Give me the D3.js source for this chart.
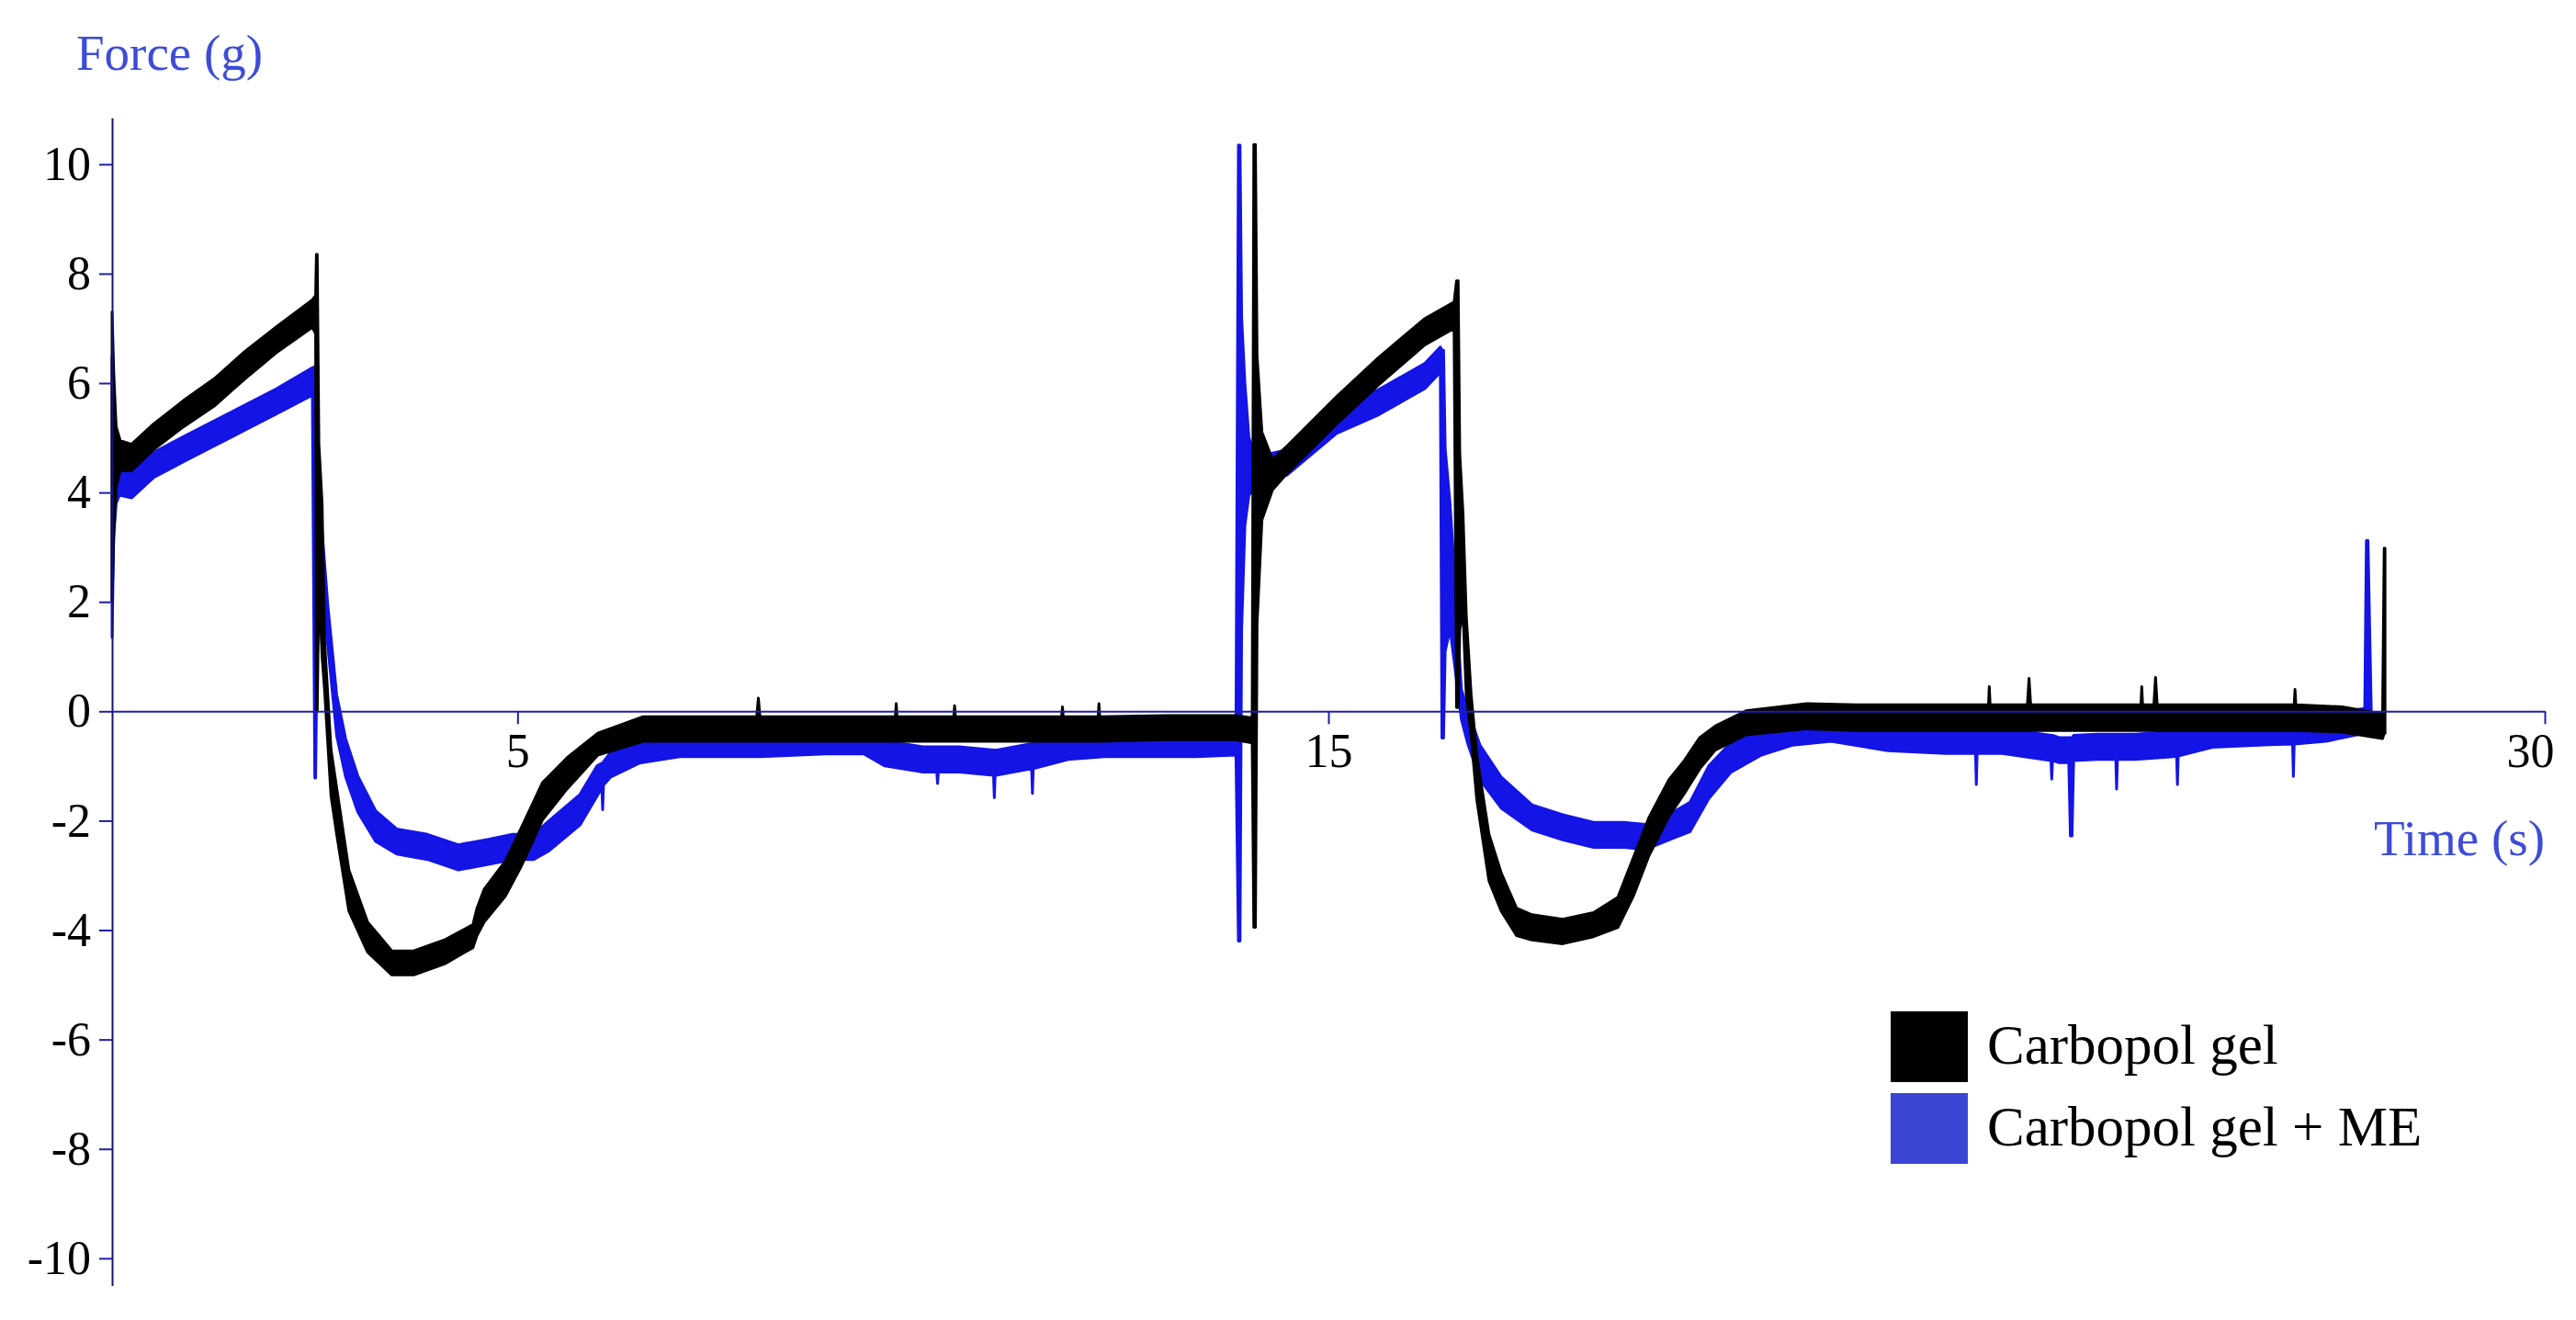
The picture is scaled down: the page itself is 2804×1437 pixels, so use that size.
<!DOCTYPE html>
<html>
<head>
<meta charset="utf-8">
<script src="https://cdn.jsdelivr.net/npm/d3@7"></script>
<style>
  body { margin: 0; background: #fff; }
</style>
</head>
<body>
<div id="chart"></div>
<script>
// Carbopol gel (black): [time (s), lower edge, upper edge] of the noisy trace (g)
const gelTrace = [
  [0.00, 2.00, 7.30], [0.02, 3.20, 6.20], [0.05, 4.10, 5.20], [0.10, 4.40, 4.95], [0.24, 4.40, 4.88],
  [0.51, 4.78, 5.25], [0.88, 5.20, 5.68], [1.26, 5.58, 6.08], [1.64, 6.08, 6.58], [2.02, 6.55, 7.02],
  [2.47, 7.02, 7.52], [2.51, 6.90, 7.60], [2.52, 0.00, 8.35], [2.53, 0.00, 8.35], [2.55, 2.30, 4.90],
  [2.59, 1.00, 3.80], [2.62, 0.40, 1.30], [2.70, -1.55, -0.70], [2.77, -2.25, -1.40], [2.92, -3.65, -2.90],
  [3.15, -4.40, -3.85], [3.45, -4.82, -4.38], [3.72, -4.82, -4.38], [4.10, -4.62, -4.18], [4.45, -4.32, -3.90],
  [4.50, -4.10, -3.60], [4.59, -3.85, -3.25], [4.85, -3.38, -2.74], [5.04, -2.85, -2.15], [5.31, -1.98, -1.30],
  [5.61, -1.42, -0.85], [5.99, -0.80, -0.40], [6.55, -0.55, -0.10], [7.00, -0.55, -0.10], [7.95, -0.55, -0.10],
  [7.97, -0.55, 0.24], [7.99, -0.55, -0.10], [9.00, -0.55, -0.10], [9.66, -0.55, -0.10], [9.67, -0.55, 0.14],
  [9.68, -0.55, -0.10], [10.38, -0.55, -0.10], [10.39, -0.55, 0.10], [10.40, -0.55, -0.10], [11.71, -0.55, -0.10],
  [11.72, -0.55, 0.08], [11.73, -0.55, -0.10], [12.16, -0.55, -0.10], [12.17, -0.55, 0.14], [12.18, -0.55, -0.10],
  [13.00, -0.52, -0.08], [13.85, -0.52, -0.08], [14.06, -0.58, -0.12], [14.08, -3.95, 10.36], [14.10, -3.95, 10.36],
  [14.12, 1.60, 6.50], [14.18, 3.50, 5.10], [14.31, 4.05, 4.60], [14.49, 4.35, 4.85], [15.10, 5.25, 5.75],
  [15.62, 5.97, 6.47], [16.19, 6.70, 7.18], [16.55, 7.00, 7.48], [16.58, 0.07, 7.87], [16.60, 0.07, 7.87],
  [16.62, 1.50, 4.70], [16.66, 1.80, 3.60], [16.70, 0.30, 1.75], [16.76, -0.45, 0.30], [16.83, -1.62, -0.80],
  [16.98, -3.10, -2.25], [17.13, -3.65, -2.95], [17.32, -4.10, -3.60], [17.51, -4.18, -3.72], [17.89, -4.25, -3.80],
  [18.27, -4.12, -3.68], [18.57, -3.95, -3.40], [18.76, -3.38, -2.68], [18.95, -2.65, -1.95], [19.20, -1.92, -1.25],
  [19.39, -1.50, -0.90], [19.58, -1.05, -0.48], [19.77, -0.71, -0.27], [20.15, -0.43, 0.01], [20.90, -0.32, 0.14],
  [21.50, -0.35, 0.12], [22.50, -0.35, 0.12], [23.14, -0.35, 0.12], [23.15, -0.35, 0.45], [23.16, -0.35, 0.12],
  [23.62, -0.35, 0.12], [23.64, -0.35, 0.60], [23.66, -0.35, 0.12], [25.02, -0.35, 0.12], [25.03, -0.35, 0.45],
  [25.04, -0.35, 0.12], [25.18, -0.35, 0.12], [25.20, -0.35, 0.62], [25.22, -0.35, 0.12], [26.50, -0.35, 0.12],
  [26.91, -0.35, 0.12], [26.92, -0.35, 0.40], [26.93, -0.35, 0.12], [27.50, -0.38, 0.08], [28.00, -0.50, -0.05],
  [28.02, -0.40, 2.98], [28.03, -0.40, 2.98]
];

// Carbopol gel + ME (blue)
const meTrace = [
  [0.00, 1.35, 6.49], [0.02, 3.20, 5.40], [0.05, 3.80, 4.60], [0.09, 3.95, 4.42], [0.24, 3.90, 4.38],
  [0.51, 4.27, 4.73], [0.88, 4.56, 5.02], [1.26, 4.85, 5.31], [1.64, 5.14, 5.60], [2.02, 5.43, 5.89],
  [2.47, 5.78, 6.28], [2.50, -1.22, 6.30], [2.51, -1.22, 6.30], [2.54, 2.60, 4.60], [2.58, 2.30, 3.50],
  [2.66, 1.20, 1.95], [2.77, -0.45, 0.30], [2.88, -1.20, -0.50], [3.03, -1.84, -1.18], [3.25, -2.38, -1.82],
  [3.51, -2.61, -2.15], [3.89, -2.71, -2.25], [4.27, -2.90, -2.44], [4.64, -2.80, -2.34], [4.94, -2.71, -2.25],
  [5.20, -2.71, -2.25], [5.39, -2.55, -2.00], [5.77, -2.08, -1.52], [5.98, -1.55, -1.00], [6.04, -1.40, -0.95],
  [6.05, -1.80, -0.95], [6.06, -1.35, -0.92], [6.15, -1.20, -0.75], [6.50, -0.95, -0.50], [7.00, -0.83, -0.37],
  [8.00, -0.83, -0.37], [8.80, -0.78, -0.32], [9.27, -0.78, -0.32], [9.53, -1.00, -0.54], [10.00, -1.11, -0.65],
  [10.17, -1.11, -0.65], [10.18, -1.32, -0.65], [10.19, -1.11, -0.65], [10.45, -1.11, -0.65], [10.87, -1.17, -0.71],
  [10.88, -1.58, -0.71], [10.89, -1.17, -0.71], [10.90, -1.17, -0.71], [11.34, -1.05, -0.59], [11.35, -1.50, -0.59],
  [11.36, -1.05, -0.59], [11.79, -0.88, -0.42], [12.24, -0.83, -0.37], [13.37, -0.83, -0.37], [13.86, -0.80, -0.32],
  [13.89, -4.20, 10.35], [13.91, -4.20, 10.35], [13.93, 1.50, 7.20], [13.97, 3.40, 6.00], [14.02, 3.95, 5.00],
  [14.10, 4.10, 4.65], [14.49, 4.32, 4.78], [15.10, 5.08, 5.54], [15.62, 5.42, 5.88], [16.19, 5.90, 6.36],
  [16.38, 6.20, 6.66], [16.40, -0.49, 6.60], [16.42, -0.49, 6.60], [16.44, 1.10, 4.80], [16.50, 1.50, 3.80],
  [16.56, 0.80, 2.40], [16.64, -0.15, 0.40], [16.72, -0.60, 0.00], [16.87, -1.25, -0.62], [17.13, -1.77, -1.20],
  [17.51, -2.17, -1.71], [17.89, -2.35, -1.89], [18.27, -2.49, -2.03], [18.65, -2.49, -2.03], [18.91, -2.53, -2.07],
  [19.20, -2.35, -1.89], [19.46, -2.20, -1.66], [19.69, -1.60, -1.00], [19.96, -1.12, -0.58], [20.34, -0.80, -0.34],
  [20.72, -0.62, -0.16], [21.20, -0.55, -0.09], [21.90, -0.72, -0.26], [22.61, -0.77, -0.31], [22.98, -0.77, -0.31],
  [22.99, -1.34, -0.31], [23.00, -0.77, -0.31], [23.31, -0.77, -0.31], [23.91, -0.90, -0.44], [23.92, -1.24, -0.44],
  [23.93, -0.90, -0.44], [24.01, -0.94, -0.48], [24.13, -0.94, -0.48], [24.15, -2.28, -0.48], [24.17, -2.28, -0.48],
  [24.19, -0.90, -0.44], [24.48, -0.88, -0.42], [24.71, -0.88, -0.42], [24.72, -1.42, -0.42], [24.73, -0.88, -0.42],
  [24.95, -0.88, -0.42], [25.42, -0.83, -0.37], [25.46, -0.82, -0.36], [25.47, -1.34, -0.36], [25.48, -0.82, -0.36],
  [25.90, -0.66, -0.20], [26.60, -0.61, -0.15], [26.89, -0.60, -0.14], [26.90, -1.19, -0.14], [26.91, -0.60, -0.14],
  [27.30, -0.55, -0.09], [27.68, -0.43, 0.03], [27.78, -0.40, 0.05], [27.80, -0.30, 3.12], [27.82, -0.30, 3.12],
  [27.86, -0.30, 0.05]
];

const xTicks = [5, 15, 30];
const yTicks = [-10, -8, -6, -4, -2, 0, 2, 4, 6, 8, 10];
const legendNames = ["Carbopol gel", "Carbopol gel + ME"];

const width = 2804;
const height = 1437;
const font = "'Liberation Serif', 'Times New Roman', serif";

const traceBlue = "#1414e6";
const legendBlue = "#3a46d3";
const titleBlue = "#3d4cd8";
const axisBlue = "#1e1ea8";

const x = d3.scaleLinear().domain([0, 30]).range([122, 2770]);
const y = d3.scaleLinear().domain([-10.5, 10.85]).range([1399.6, 128.2]);

const svg = d3.select("#chart")
    .append("svg")
    .attr("width", width)
    .attr("height", height)
    .style("background", "#fff");

// blue first so the black trace lies on top, like the original
const series = [
    { name: legendNames[1], color: traceBlue, data: meTrace },
    { name: legendNames[0], color: "#000", data: gelTrace }
];

const area = d3.area()
    .x(d => x(d[0]))
    .y0(d => y(d[1]))
    .y1(d => y(d[2]));

svg.append("g")
    .selectAll("path")
    .data(series)
    .join("path")
    .attr("d", d => area(d.data))
    .attr("fill", d => d.color)
    .attr("stroke", d => d.color)
    .attr("stroke-width", 3)
    .attr("stroke-linejoin", "round");

// y axis
const yAxis = svg.append("g")
    .attr("transform", `translate(${x(0)},0)`)
    .call(d3.axisLeft(y)
        .tickValues(yTicks)
        .tickSize(14)
        .tickSizeOuter(0)
        .tickPadding(9)
        .tickFormat(d => String(d)));
yAxis.select(".domain").attr("stroke", "#14147a").attr("stroke-width", 2);
yAxis.selectAll(".tick line").attr("stroke", axisBlue).attr("stroke-width", 2);
yAxis.selectAll(".tick text")
    .attr("fill", "#000")
    .style("font-family", font)
    .style("font-size", "52px");

// x axis sits on zero
const xAxis = svg.append("g")
    .attr("transform", `translate(0,${y(0)})`)
    .call(d3.axisBottom(x)
        .tickValues(xTicks)
        .tickSize(14)
        .tickSizeOuter(0)
        .tickPadding(10)
        .tickFormat(d => String(d)));
xAxis.select(".domain").attr("stroke", axisBlue).attr("stroke-width", 2);
xAxis.selectAll(".tick line").attr("stroke", axisBlue).attr("stroke-width", 2);
xAxis.selectAll(".tick text")
    .attr("fill", "#000")
    .style("font-family", font)
    .style("font-size", "52px");
xAxis.selectAll(".tick:last-of-type text")
    .attr("text-anchor", "end")
    .attr("dx", 10);

// axis titles
svg.append("text")
    .attr("x", 83)
    .attr("y", 76)
    .attr("fill", titleBlue)
    .style("font-family", font)
    .style("font-size", "55px")
    .text("Force (g)");

svg.append("text")
    .attr("x", 2770)
    .attr("y", 931)
    .attr("text-anchor", "end")
    .attr("fill", titleBlue)
    .style("font-family", font)
    .style("font-size", "55px")
    .text("Time (s)");

// legend
const legend = svg.append("g")
    .attr("transform", "translate(2058,1101)")
    .selectAll("g")
    .data([{ name: legendNames[0], color: "#000" }, { name: legendNames[1], color: legendBlue }])
    .join("g")
    .attr("transform", (d, i) => `translate(0,${i * 89})`);

legend.append("rect")
    .attr("width", 84)
    .attr("height", 77)
    .attr("fill", d => d.color);

legend.append("text")
    .attr("x", 105)
    .attr("y", 57)
    .attr("fill", "#000")
    .style("font-family", font)
    .style("font-size", "61px")
    .text(d => d.name);
</script>
</body>
</html>
